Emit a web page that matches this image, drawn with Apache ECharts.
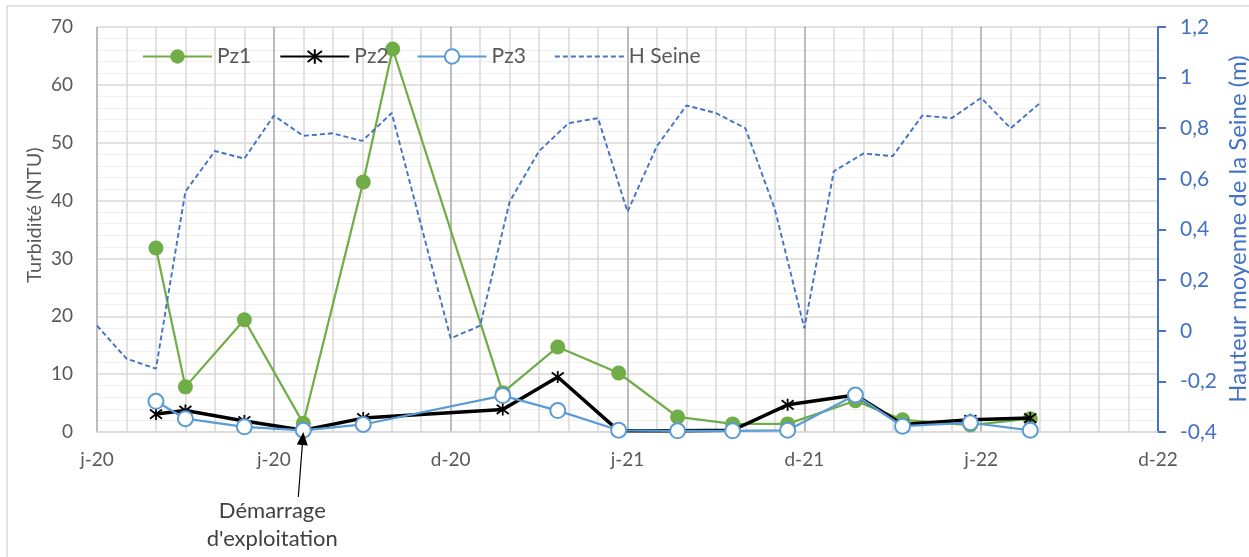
<!DOCTYPE html>
<html>
<head>
<meta charset="utf-8">
<title>Turbidité et hauteur de la Seine</title>
<script src="https://cdn.jsdelivr.net/npm/echarts@6/dist/echarts.min.js"></script>
<style>
  html, body { margin: 0; padding: 0; background: #ffffff; }
  #chart { width: 1249px; height: 557px; }
</style>
</head>
<body>
<div id="chart"></div>
<script>
// Sampling dates of the three piezometers
const pzDates = ['2020-03-01', '2020-03-31', '2020-05-30', '2020-07-29', '2020-09-28', '2020-10-28',
                 '2021-02-17', '2021-04-14', '2021-06-15', '2021-08-14', '2021-10-09', '2021-12-04',
                 '2022-02-11', '2022-03-31', '2022-06-08', '2022-08-08'];
// Turbidity (NTU); null = no measurement on that date
const pz1 = [31.8, 7.8, 19.4, 1.5, 43.2, 66.2, 6.8, 14.7, 10.2, 2.6, 1.4, 1.4, 5.4, 2.1, 1.2, 2.3];
const pz2 = [3.1, 3.7, 1.9, 0.3, 2.4, null, 3.9, 9.5, 0.2, 0.2, 0.3, 4.7, 6.4, 1.3, 2.1, 2.4];
const pz3 = [5.3, 2.3, 0.9, 0.3, 1.3, null, 6.3, 3.7, 0.3, 0.2, 0.2, 0.3, 6.4, 1.0, 1.6, 0.3];

// Mean Seine water level (m)
const hDates = ['2020-01-01', '2020-01-31', '2020-03-01', '2020-03-31', '2020-04-30', '2020-05-30',
                '2020-06-29', '2020-07-29', '2020-08-28', '2020-09-27', '2020-10-27',
                '2020-12-26', '2021-01-25', '2021-02-24', '2021-03-26', '2021-04-25', '2021-05-25',
                '2021-06-24', '2021-07-24', '2021-08-23', '2021-09-22', '2021-10-22', '2021-11-21',
                '2021-12-21', '2022-01-20', '2022-02-19', '2022-03-21', '2022-04-20', '2022-05-20',
                '2022-06-19', '2022-07-19', '2022-08-18'];
const hSeine = [0.02, -0.11, -0.15, 0.55, 0.71, 0.68, 0.85, 0.77, 0.78, 0.75, 0.86,
                -0.03, 0.02, 0.51, 0.71, 0.82, 0.84, 0.47, 0.73, 0.89, 0.86, 0.80, 0.48,
                0.01, 0.63, 0.70, 0.69, 0.85, 0.84, 0.92, 0.80, 0.90];

// Date axis labels, one every 180 days from 1 Jan 2020
const xTickLabels = ['j-20', 'j-20', 'd-20', 'j-21', 'd-21', 'j-22', 'd-22'];
const startLabel = "Démarrage\nd'exploitation";
const startDate = '2020-07-29';

const origin = Date.parse('2020-01-01');
const toDay = s => (Date.parse(s) - origin) / 86400000;
const pairs = (dates, vals) => dates.map((d, i) => [toDay(d), vals[i]]).filter(p => p[1] !== null);

const FONT = 'Lato, "Open Sans", "Noto Sans", sans-serif';
const GREY = '#595959';
const H_BLUE = '#4472c4';
const STAR = 'path://M-1,-1L1,1M-1,1L1,-1M0,-1.3L0,1.3';

const chart = echarts.init(document.getElementById('chart'), null, { renderer: 'canvas' });

chart.setOption({
  animation: false,
  backgroundColor: '#ffffff',
  textStyle: { fontFamily: FONT },
  grid: { left: 97, right: 91, top: 27, bottom: 125, containLabel: false },
  legend: {
    left: 137, top: 41,
    itemWidth: 69, itemHeight: 18, itemGap: 28,
    textStyle: { color: GREY, fontSize: 21, fontFamily: FONT },
    data: [
      'Pz1', 'Pz2', 'Pz3',
      { name: 'H Seine', itemStyle: { opacity: 0 } }
    ]
  },
  xAxis: {
    type: 'value', min: 0, max: 1080, interval: 180,
    axisLine: { show: true, lineStyle: { color: '#d9d9d9', width: 1.5 } },
    axisTick: { show: false },
    axisLabel: {
      color: GREY, fontSize: 19, fontFamily: FONT, margin: 18,
      formatter: v => xTickLabels[Math.round(v / 180)] || ''
    },
    splitLine: { show: true, lineStyle: { color: '#a6a6a6', width: 1.5 } },
    minorTick: { show: false, splitNumber: 6 },
    minorSplitLine: { show: true, lineStyle: { color: '#d9d9d9', width: 1.5 } }
  },
  yAxis: [
    {
      type: 'value', min: 0, max: 70, interval: 10,
      axisLine: { show: false }, axisTick: { show: false },
      axisLabel: { color: GREY, fontSize: 19, fontFamily: FONT, margin: 24 },
      splitLine: { show: true, lineStyle: { color: '#d9d9d9', width: 1.5 } },
      minorTick: { show: false, splitNumber: 5 },
      minorSplitLine: { show: true, lineStyle: { color: '#efefef', width: 1 } }
    },
    {
      type: 'value', min: -0.4, max: 1.2, interval: 0.2, position: 'right',
      axisLine: { show: true, lineStyle: { color: H_BLUE, width: 2 } },
      axisTick: { show: true, inside: false, length: 8, lineStyle: { color: H_BLUE, width: 2 } },
      axisLabel: {
        color: H_BLUE, fontSize: 21, fontFamily: FONT, margin: 22,
        formatter: v => String(Math.round(v * 10) / 10).replace('.', ',')
      },
      splitLine: { show: false }
    }
  ],
  series: [
    {
      name: 'Pz1', type: 'line', yAxisIndex: 0,
      data: pairs(pzDates, pz1),
      symbol: 'circle', symbolSize: 15,
      lineStyle: { color: '#70ad47', width: 2.25 },
      itemStyle: { color: '#70ad47' },
      z: 3
    },
    {
      name: 'Pz2', type: 'line', yAxisIndex: 0,
      data: pairs(pzDates, pz2),
      symbol: STAR, symbolSize: 12,
      lineStyle: { color: '#000000', width: 3.5 },
      itemStyle: { color: '#000000', borderColor: '#000000', borderWidth: 1.8 },
      z: 4
    },
    {
      name: 'Pz3', type: 'line', yAxisIndex: 0,
      data: pairs(pzDates, pz3),
      symbol: 'circle', symbolSize: 15,
      lineStyle: { color: '#5b9bd5', width: 2.25 },
      itemStyle: { color: '#ffffff', borderColor: '#5b9bd5', borderWidth: 2 },
      z: 5
    },
    {
      name: 'H Seine', type: 'line', yAxisIndex: 1,
      data: pairs(hDates, hSeine),
      symbol: 'none', showSymbol: false,
      lineStyle: { color: H_BLUE, width: 1.9, type: [5, 3] },
      itemStyle: { color: H_BLUE },
      z: 6
    }
  ]
});

// Axis titles, frame and the start-of-operation annotation
const tip = chart.convertToPixel({ xAxisIndex: 0, yAxisIndex: 0 }, [toDay(startDate), 0]);
const tail = [tip[0] - 5, tip[1] + 65];
const dx = tip[0] - tail[0], dy = tip[1] - tail[1];
const len = Math.hypot(dx, dy), ux = dx / len, uy = dy / len;
const headL = 13, headW = 5.5;
const base = [tip[0] - ux * headL, tip[1] - uy * headL];
const [line0, line1] = startLabel.split('\n');

chart.setOption({
  graphic: [
    {
      type: 'rect', silent: true,
      shape: { x: 7, y: 6, width: 1262, height: 580 },
      style: { fill: 'none', stroke: '#d9d9d9', lineWidth: 1.5 }
    },
    {
      type: 'text', silent: true, x: 35, y: 215, rotation: Math.PI / 2,
      style: { text: 'Turbidité (NTU)', fill: GREY, fontSize: 20, fontFamily: FONT,
               align: 'center', verticalAlign: 'middle' }
    },
    {
      type: 'text', silent: true, x: 1238, y: 229, rotation: Math.PI / 2,
      style: { text: 'Hauteur moyenne de la Seine (m)', fill: H_BLUE, fontSize: 24, fontFamily: FONT,
               align: 'center', verticalAlign: 'middle' }
    },
    {
      type: 'line', silent: true, z: 20,
      shape: { x1: tail[0], y1: tail[1], x2: base[0], y2: base[1] },
      style: { stroke: '#000000', lineWidth: 1.2 }
    },
    {
      type: 'polygon', silent: true, z: 20,
      shape: { points: [
        [tip[0], tip[1]],
        [base[0] - uy * headW, base[1] + ux * headW],
        [base[0] + uy * headW, base[1] - ux * headW]
      ] },
      style: { fill: '#000000' }
    },
    {
      type: 'text', silent: true, x: tip[0] - 31, y: tip[1] + 79,
      style: { text: line0, fill: '#404040', fontSize: 22, fontFamily: FONT,
               align: 'center', verticalAlign: 'middle' }
    },
    {
      type: 'text', silent: true, x: tip[0] - 31, y: tip[1] + 107,
      style: { text: line1, fill: '#404040', fontSize: 22, fontFamily: FONT,
               align: 'center', verticalAlign: 'middle' }
    }
  ]
});
</script>
</body>
</html>
